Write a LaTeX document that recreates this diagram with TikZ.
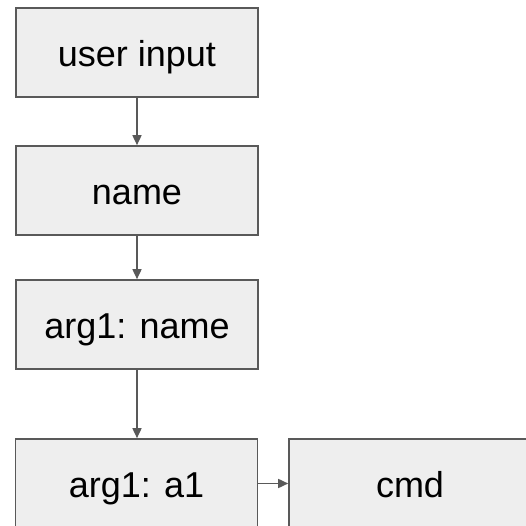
\documentclass[tikz,border=0pt]{standalone}
\usepackage{fontspec}
\setmainfont{Liberation Sans}
\usetikzlibrary{arrows.meta}
\definecolor{boxfill}{HTML}{EEEEEE}
\definecolor{edge}{HTML}{595959}
\begin{document}
\begin{tikzpicture}[x=1pt,y=1pt,
  box/.style={draw=edge, fill=boxfill, line width=1.6pt, minimum width=242pt, minimum height=89pt, inner sep=0pt, text height=28.6pt, text depth=0pt, font=\fontsize{36}{40}\selectfont},
  conn/.style={draw=edge, line width=1.6pt, -{Triangle[length=10pt,width=9pt]}}]
\useasboundingbox (0,0) rectangle (526,526);
\node[box] (ui) at (137,473.5) {user input};
\node[box] (nm) at (137,335.5) {name};
\node[box] (an) at (137,201.5) {arg1: name};
\node[box] (aa) at (136.5,42.5) {arg1: a1};
\node[box] (cmd) at (410,42.5) {cmd};
\draw[conn] (ui) -- (nm);
\draw[conn] (nm) -- (an);
\draw[conn] (an.south) -- (an.south |- aa.north);
\draw[conn] (aa) -- (cmd);
\end{tikzpicture}
\end{document}
